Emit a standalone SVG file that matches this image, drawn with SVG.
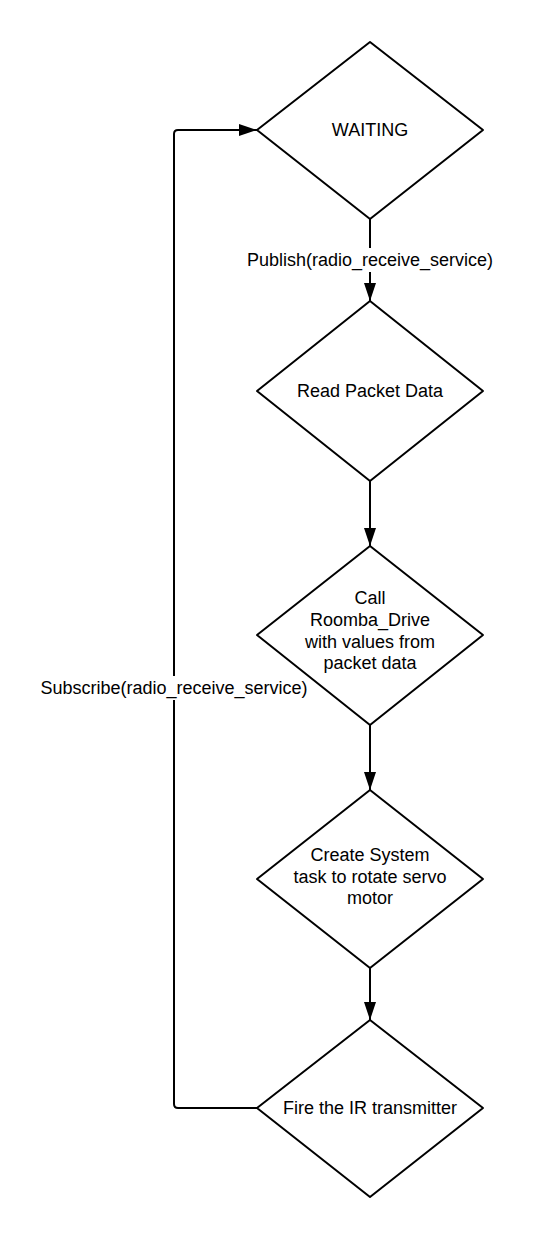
<svg xmlns="http://www.w3.org/2000/svg" width="533" height="1239" viewBox="0 0 533 1239">
<style>
.shape{fill:#fff;stroke:#000;stroke-width:2;stroke-linejoin:round}
.conn{fill:none;stroke:#000;stroke-width:2}
text{font-family:"Liberation Sans",Arial,sans-serif;font-size:18px;fill:#000;text-anchor:middle;dominant-baseline:central}
</style>
<defs>
<marker id="ah" viewBox="0 0 18 12" refX="18" refY="6" markerWidth="18" markerHeight="12" markerUnits="userSpaceOnUse" orient="auto">
<path d="M0,0 L18,6 L0,12 Z" fill="#000"/>
</marker>
</defs>
<rect width="533" height="1239" fill="#fff"/>
<g id="connectors">
<path class="conn" d="M370,219 V301" marker-end="url(#ah)"/>
<path class="conn" d="M370,481 V546" marker-end="url(#ah)"/>
<path class="conn" d="M370,725 V790" marker-end="url(#ah)"/>
<path class="conn" d="M370,968 V1020" marker-end="url(#ah)"/>
<path class="conn" d="M257,1108 H178 Q174,1108 174,1104 V134 Q174,130 178,130 H257" marker-end="url(#ah)"/>
<rect x="244" y="248" width="252" height="24" fill="#fff"/>
<text x="370" y="260">Publish(radio_receive_service)</text>
<rect x="38" y="676" width="272" height="24" fill="#fff"/>
<text x="174" y="688">Subscribe(radio_receive_service)</text>
</g>
<g id="waiting">
<path class="shape" d="M370,42 L483,130 L370,219 L257,130 Z"/>
<text x="370" y="130">WAITING</text>
</g>
<g id="read">
<path class="shape" d="M370,301 L483,391 L370,481 L257,391 Z"/>
<text x="370" y="391">Read Packet Data</text>
</g>
<g id="call">
<path class="shape" d="M370,546 L483,635 L370,725 L257,635 Z"/>
<text x="370" y="598">Call</text>
<text x="370" y="620">Roomba_Drive</text>
<text x="370" y="642">with values from</text>
<text x="370" y="663">packet data</text>
</g>
<g id="create">
<path class="shape" d="M370,790 L483,879 L370,968 L257,879 Z"/>
<text x="370" y="855">Create System</text>
<text x="370" y="877">task to rotate servo</text>
<text x="370" y="898">motor</text>
</g>
<g id="fire">
<path class="shape" d="M370,1020 L483,1108 L370,1197 L257,1108 Z"/>
<text x="370" y="1108">Fire the IR transmitter</text>
</g>
</svg>
